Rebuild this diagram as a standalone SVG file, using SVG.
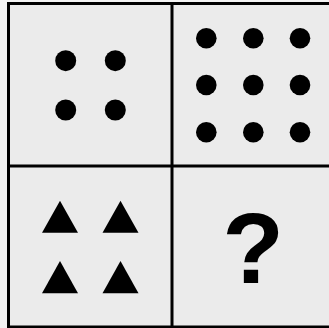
<svg xmlns="http://www.w3.org/2000/svg" width="329" height="328" viewBox="0 0 329 328">
<style>
.frame{fill:none;stroke:#000;stroke-width:3}
.dot{fill:#000}
.tri{fill:#000}
.q{font-family:"Liberation Sans",Arial,sans-serif;font-weight:bold;font-size:101px;fill:#000}
</style>
<rect x="0" y="0" width="329" height="328" fill="#f3f3f3"/>
<rect x="8.5" y="3.5" width="330" height="324" fill="#ebebeb"/>
<g id="frame">
<rect class="frame" x="8.5" y="3.5" width="330" height="323.5"/>
<line class="frame" x1="172" y1="3.5" x2="172" y2="328"/>
<line class="frame" x1="8.5" y1="166" x2="329" y2="166"/>
</g>
<g id="cell-top-left">
<circle class="dot" cx="65.7" cy="60.7" r="10.5"/>
<circle class="dot" cx="115.3" cy="60.7" r="10.5"/>
<circle class="dot" cx="65.7" cy="110" r="10.5"/>
<circle class="dot" cx="115.3" cy="110" r="10.5"/>
</g>
<g id="cell-top-right">
<circle class="dot" cx="206.3" cy="38.3" r="10.3"/>
<circle class="dot" cx="253.3" cy="38.3" r="10.3"/>
<circle class="dot" cx="300" cy="38.3" r="10.3"/>
<circle class="dot" cx="206.3" cy="85" r="10.3"/>
<circle class="dot" cx="253.3" cy="85" r="10.3"/>
<circle class="dot" cx="300" cy="85" r="10.3"/>
<circle class="dot" cx="206.3" cy="132.3" r="10.3"/>
<circle class="dot" cx="253.3" cy="132.3" r="10.3"/>
<circle class="dot" cx="300" cy="132.3" r="10.3"/>
</g>
<g id="cell-bottom-left">
<polygon class="tri" points="60,200.7 78,232.7 42,232.7"/>
<polygon class="tri" points="120.5,200.7 138.5,232.7 102.5,232.7"/>
<polygon class="tri" points="60,261 78,293.3 42,293.3"/>
<polygon class="tri" points="120.5,261 138.5,293.3 102.5,293.3"/>
</g>
<g id="cell-bottom-right">
<text class="q" x="253" y="283" text-anchor="middle">?</text>
</g>
</svg>
